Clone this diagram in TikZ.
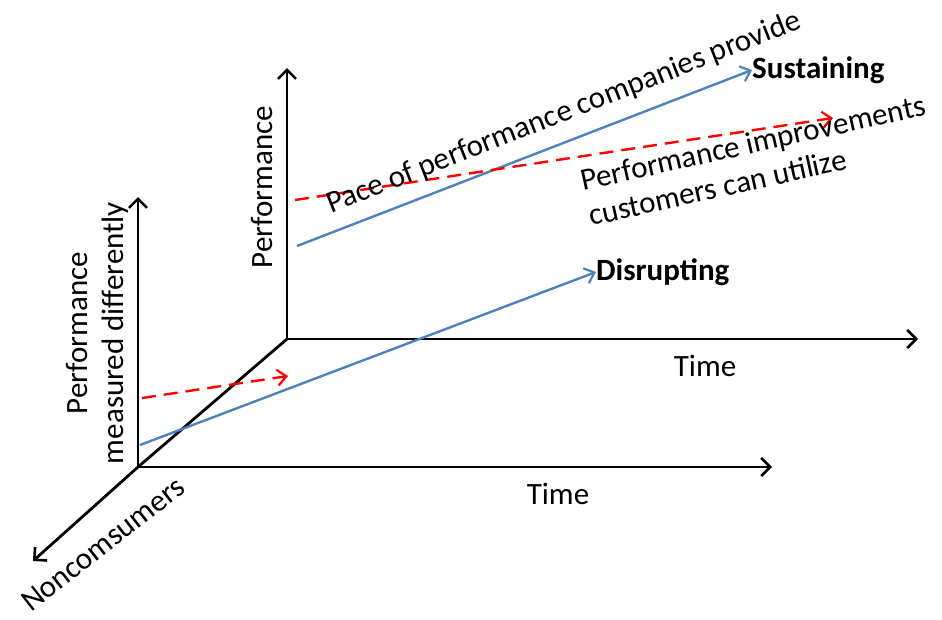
\documentclass[tikz,border=0pt]{standalone}
\usepackage{fontspec}
\setmainfont{Carlito}
\usepackage{xcolor}
\usepackage{tikz}
\usetikzlibrary{arrows.meta}

\definecolor{officeblue}{RGB}{79,129,189}

\tikzset{
  axis/.style={line width=2.8pt, -{Straight Barb[length=9pt,width=18pt,line width=2.6pt]}},
  bluearrow/.style={officeblue, line width=2.4pt, -{Straight Barb[length=9pt,width=16pt,line width=2.2pt]}},
  redarrow/.style={red, line width=2.4pt, dash pattern=on 14pt off 8pt, -{Straight Barb[length=9pt,width=16pt,line width=2.2pt]}},
  lbl/.style={font=\fontsize{31}{36}\selectfont, inner sep=0pt},
  boldlbl/.style={lbl, font=\fontsize{31}{36}\selectfont\bfseries, anchor=west}
}

\begin{document}
\begin{tikzpicture}[x=1pt, y=-1pt]

\useasboundingbox (0,0) rectangle (942,619);

\coordinate (backorigin) at (287,339);
\coordinate (backtop) at (287,68);
\coordinate (backright) at (918,339);
\coordinate (frontorigin) at (138,467);
\coordinate (fronttop) at (138,197);
\coordinate (frontright) at (772,467);
\coordinate (noncons) at (33,561);

\draw[axis] (backorigin)--(backtop);
\draw[axis] (backorigin)--(backright);
\draw[axis] (frontorigin)--(fronttop);
\draw[axis] (frontorigin)--(frontright);
\draw[line width=2.8pt] (backorigin)--(frontorigin);
\draw[axis] (frontorigin)--(noncons);

\node[boldlbl] (sustaining) at (752,70) {Sustaining};
\node[boldlbl] (disrupting) at (596,272) {Disrupting};

\coordinate (sustainstart) at (297,246);
\coordinate (needstart) at (295,200);
\coordinate (needend) at (833,118);
\coordinate (disruptstart) at (140,445);
\coordinate (lowneedstart) at (142,398);
\coordinate (lowneedend) at (288,376);

\draw[bluearrow] (sustainstart)--(sustaining.west);
\draw[redarrow] (needstart)--(needend);
\draw[bluearrow] (disruptstart)--(disrupting.west);
\draw[redarrow] (lowneedstart)--(lowneedend);

\node[lbl, rotate=21.5] (pace) at (564,113) {Pace of performance companies provide};
\node[lbl, rotate=12.5, align=left] (utilize) at (757,160) {Performance improvements\\customers can utilize};
\node[lbl, rotate=90] (perfback) at (262,187) {Performance};
\node[lbl, rotate=90, align=center] (perffront) at (97,333) {Performance\\measured differently};
\node[lbl] (timeback) at (705,366) {Time};
\node[lbl] (timefront) at (558,494) {Time};
\node[lbl, rotate=38] (noncomsumers) at (103,544) {Noncomsumers};

\end{tikzpicture}
\end{document}
